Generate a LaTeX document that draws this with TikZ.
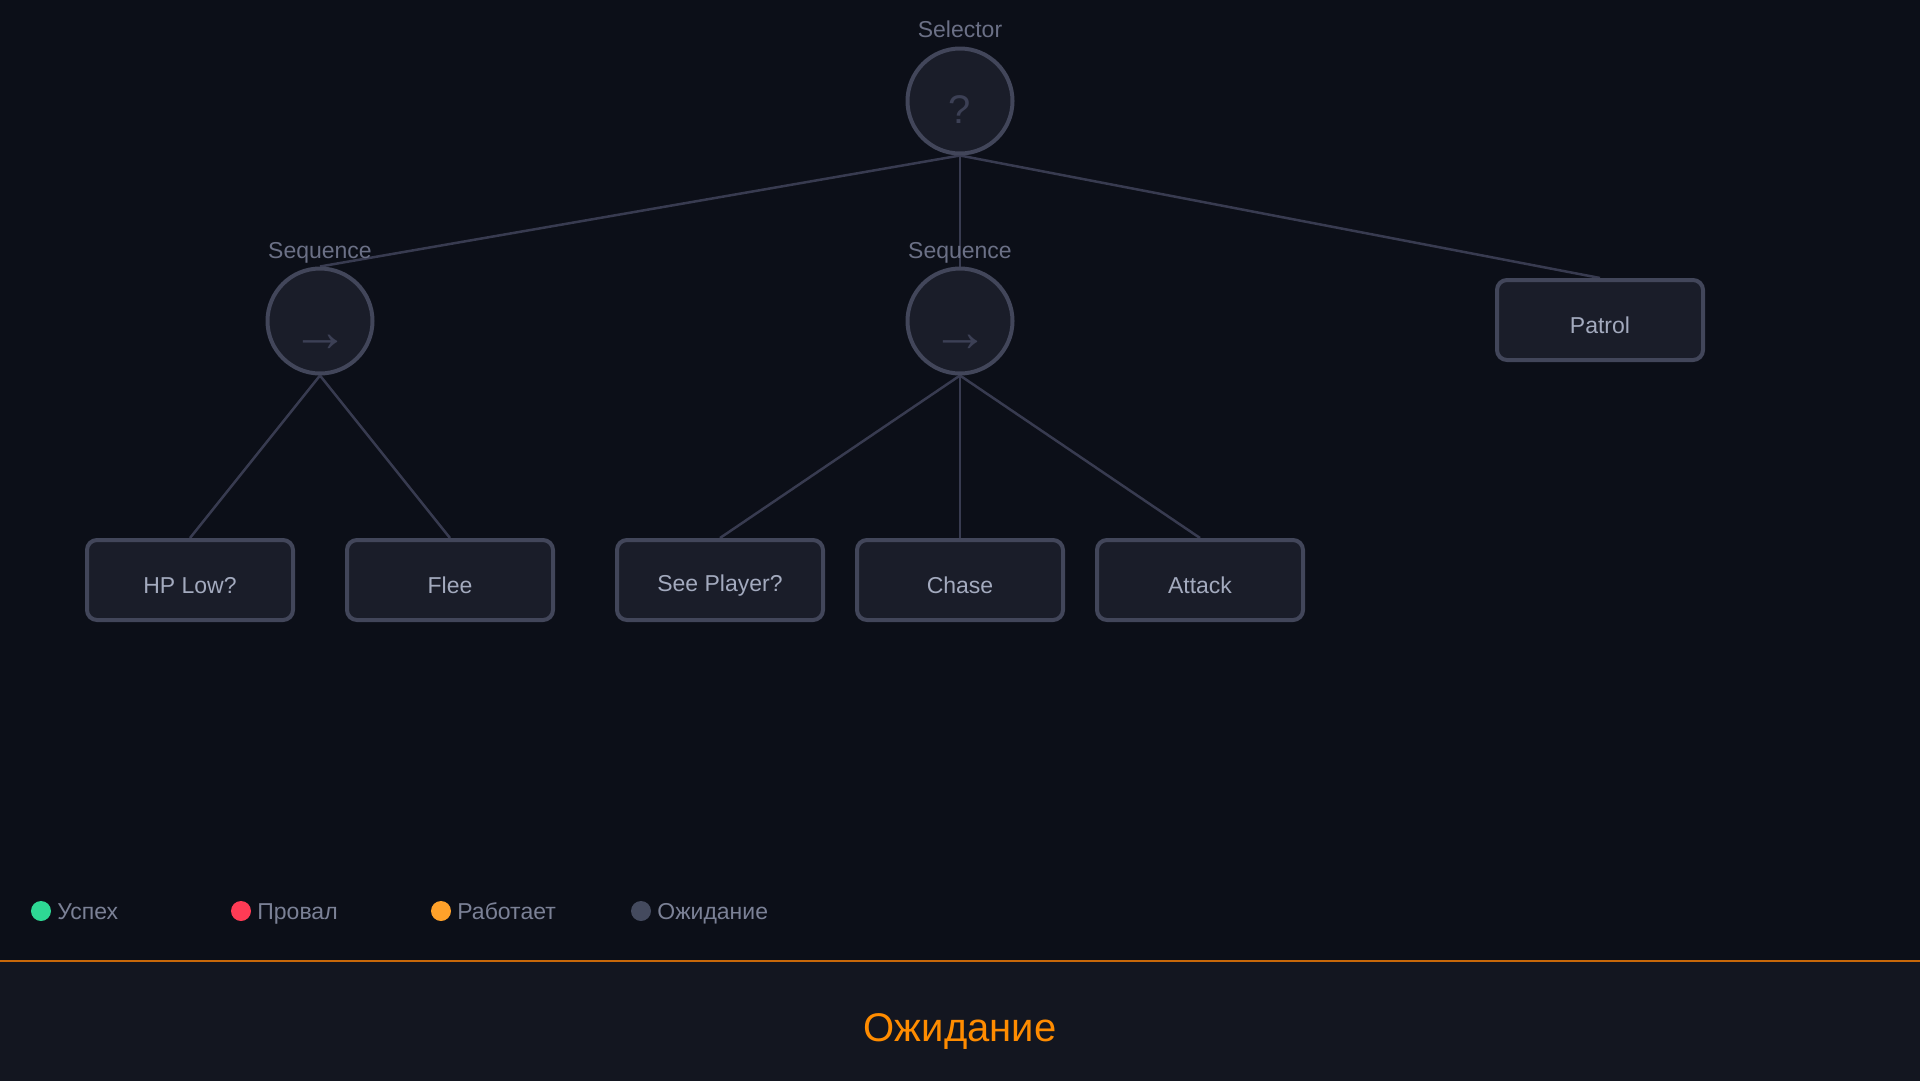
\documentclass[tikz,border=0pt]{standalone}
\usepackage{fontspec}
\setmainfont{Liberation Sans}
\usepackage{xcolor}
\usetikzlibrary{positioning}
\definecolor{btbg}{HTML}{0C0F18}
\definecolor{btpanel}{HTML}{131620}
\definecolor{btfill}{HTML}{1A1D29}
\definecolor{btedge}{HTML}{42465A}
\definecolor{btline}{HTML}{383B50}
\definecolor{btsym}{HTML}{3C4055}
\definecolor{bttext}{HTML}{A3AABE}
\definecolor{btlabel}{HTML}{6B7086}
\definecolor{btlegend}{HTML}{7B8196}
\definecolor{btok}{HTML}{2ED894}
\definecolor{btfail}{HTML}{FF3B55}
\definecolor{btrun}{HTML}{FFA12A}
\definecolor{btwait}{HTML}{444A5E}
\definecolor{btorange}{HTML}{FF8C00}
\definecolor{btrule}{HTML}{C8680A}
\pgfdeclarelayer{back}
\pgfdeclarelayer{links}
\pgfsetlayers{back,links,main}
\tikzset{
    ctrlnode/.style={circle, draw=btedge, line width=4pt, fill=btfill, minimum size=105pt, inner sep=0pt},
    leafnode/.style={rectangle, rounded corners=10pt, draw=btedge, line width=4pt, fill=btfill, minimum width=206pt, minimum height=80pt, text=bttext, text height=30pt, text depth=3.5pt, font=\fontsize{23}{23}\selectfont},
    symtext/.style={text=btsym, inner sep=0pt},
    kindtext/.style={text=btlabel, inner sep=0pt, text height=17pt, text depth=0pt, font=\fontsize{23}{23}\selectfont},
    link/.style={draw=btline, line width=2.5pt},
    dot/.style={circle, minimum size=20pt, inner sep=0pt},
    keytext/.style={text=btlegend, inner sep=0pt, text height=17pt, text depth=0pt, font=\fontsize{23}{23}\selectfont}
}

\begin{document}
\begin{tikzpicture}[x=1pt, y=-1pt]
    \useasboundingbox (0,0) rectangle (1920,1080);
    % background and status panel
    \begin{pgfonlayer}{back}
        \fill[btbg] (-6,-6) rectangle (1926,1086);
        \fill[btpanel] (-6,961) rectangle (1926,1086);
        \draw[btrule, line width=1.5pt] (-6,961) -- (1926,961);
    \end{pgfonlayer}

    % control nodes
    \node[ctrlnode] (sel) at (960,101) {};
    \node[ctrlnode] (seqa) at (320,321) {};
    \node[ctrlnode] (seqb) at (960,321) {};
    \node[symtext, font=\fontsize{40}{40}\selectfont] (selsym) at ([yshift=-9pt]sel.center) {?};
    \node[symtext, font=\fontsize{58}{58}\selectfont] (seqasym) at ([yshift=-22pt]seqa.center) {→};
    \node[symtext, font=\fontsize{58}{58}\selectfont] (seqbsym) at ([yshift=-22pt]seqb.center) {→};
    \node[kindtext] (sellbl) at (960,29) {Selector};
    \node[kindtext] (seqalbl) at (320,250) {Sequence};
    \node[kindtext] (seqblbl) at (960,250) {Sequence};

    % leaves
    \node[leafnode] (patrol) at (1600,320) {Patrol};
    \node[leafnode] (hplow) at (190,580) {HP Low?};
    \node[leafnode] (flee) at (450,580) {Flee};
    \node[leafnode, text depth=8pt] (see) at (720,580) {See Player?};
    \node[leafnode] (chase) at (960,580) {Chase};
    \node[leafnode] (attack) at (1200,580) {Attack};

    \begin{pgfonlayer}{links}
        \draw[link] (sel.south) -- (seqa.north);
        \draw[link] (sel.south) -- (seqb.north);
        \draw[link] (sel.south) -- (patrol.north);
        \draw[link] (seqa.south) -- (hplow.north);
        \draw[link] (seqa.south) -- (flee.north);
        \draw[link] (seqb.south) -- (see.north);
        \draw[link] (seqb.south) -- (chase.north);
        \draw[link] (seqb.south) -- (attack.north);
    \end{pgfonlayer}

    % legend
    \node[dot, fill=btok] (dotok) at (41,911) {};
    \node[keytext, right=6pt of dotok] (keyok) {Успех};
    \node[dot, fill=btfail] (dotfail) at (241,911) {};
    \node[keytext, right=6pt of dotfail] (keyfail) {Провал};
    \node[dot, fill=btrun] (dotrun) at (441,911) {};
    \node[keytext, right=6pt of dotrun] (keyrun) {Работает};
    \node[dot, fill=btwait] (dotwait) at (641,911) {};
    \node[keytext, right=6pt of dotwait] (keywait) {Ожидание};

    % status
    \node[text=btorange, inner sep=0pt, text height=29pt, text depth=0pt, font=\fontsize{40}{40}\selectfont] (status) at (960,1027) {Ожидание};
\end{tikzpicture}
\end{document}
